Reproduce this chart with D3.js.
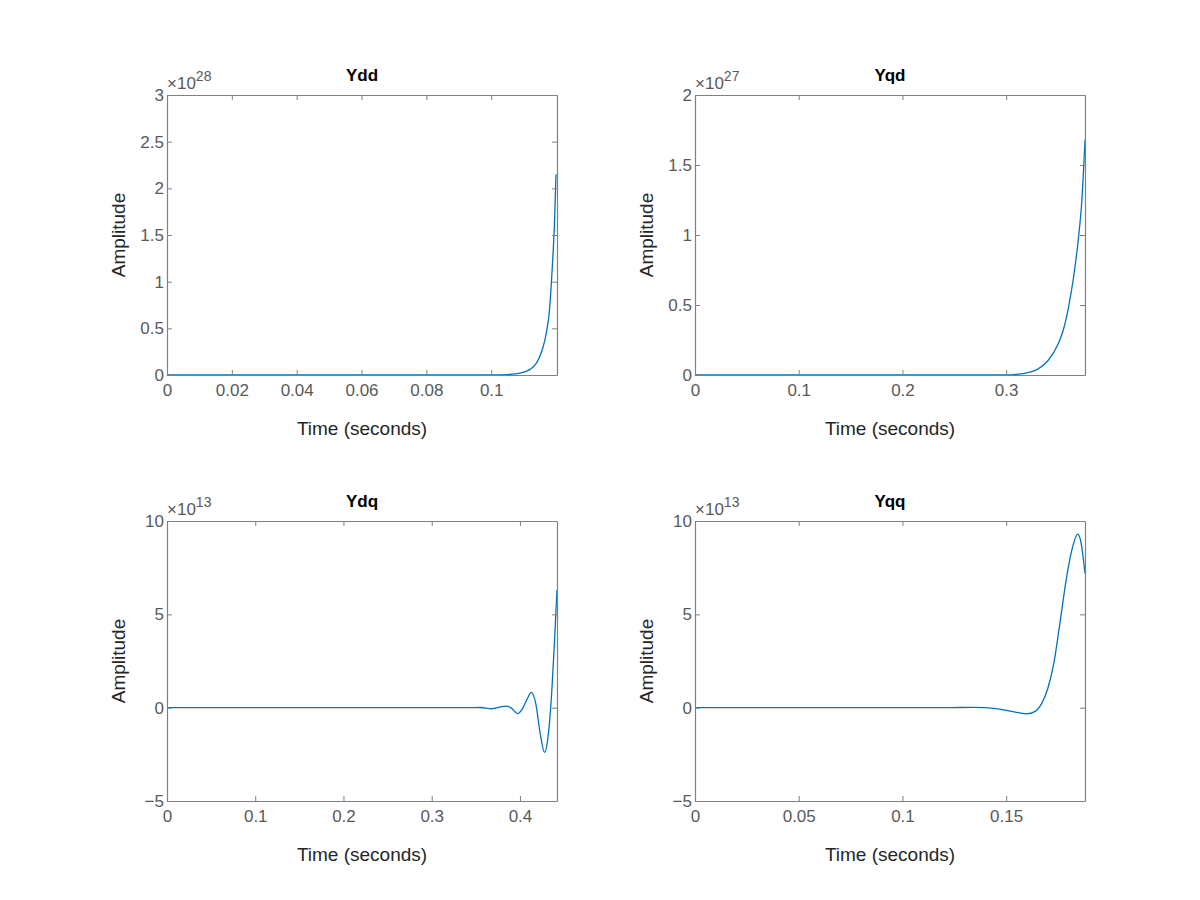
<!DOCTYPE html>
<html><head><meta charset="utf-8">
<script src="https://cdn.jsdelivr.net/npm/d3@7"></script>
<style>body{margin:0;background:#fff;font-family:"Liberation Sans",Arial,sans-serif}</style>
</head><body><div id="canvas"></div>
<script>
// [time, amplitude / scale]
var yddData = [[0,0],[0.09,0],[0.1,0.001],[0.105,0.005],[0.108,0.015],[0.11,0.03],[0.112,0.06],[0.114,0.13],[0.115,0.2],[0.116,0.3],[0.117,0.45],[0.118,0.7],[0.1185,0.95],[0.119,1.25],[0.1195,1.6],[0.12,2.15]];
var yqdData = [[0,0],[0.28,0],[0.3,0.001],[0.31,0.005],[0.32,0.015],[0.33,0.04],[0.34,0.1],[0.35,0.22],[0.355,0.32],[0.36,0.48],[0.365,0.7],[0.37,1.0],[0.373,1.25],[0.376,1.68]];
var ydqData = [[0,0],[0.34,0],[0.355,0.01],[0.368,-0.06],[0.376,0.02],[0.385,0.08],[0.391,-0.05],[0.397,-0.32],[0.403,-0.05],[0.408,0.45],[0.413,0.82],[0.418,0.2],[0.423,-1.4],[0.428,-2.4],[0.432,-1.5],[0.436,0.8],[0.439,3.4],[0.442,6.3]];
var yqqData = [[0,0],[0.12,0],[0.135,0.02],[0.145,-0.05],[0.155,-0.25],[0.16,-0.33],[0.164,-0.2],[0.167,0.2],[0.17,1.0],[0.173,2.4],[0.176,4.6],[0.179,6.9],[0.182,8.6],[0.1845,9.3],[0.186,8.9],[0.188,7.2]];

var panels = [
  {title:"Ydd", data:yddData, xMax:0.1203, xTicks:[0,0.02,0.04,0.06,0.08,0.1], yDom:[0,3], yTicks:[0,0.5,1,1.5,2,2.5,3], exp:"28", left:167, top:95},
  {title:"Yqd", data:yqdData, xMax:0.376, xTicks:[0,0.1,0.2,0.3], yDom:[0,2], yTicks:[0,0.5,1,1.5,2], exp:"27", left:695, top:95},
  {title:"Ydq", data:ydqData, xMax:0.442, xTicks:[0,0.1,0.2,0.3,0.4], yDom:[-5,10], yTicks:[-5,0,5,10], exp:"13", left:167, top:521},
  {title:"Yqq", data:yqqData, xMax:0.188, xTicks:[0,0.05,0.1,0.15], yDom:[-5,10], yTicks:[-5,0,5,10], exp:"13", left:695, top:521}
];
var W = 390, H = 280;
var axisColor = "#808080", textColor = "#595959";

var svg = d3.select("#canvas").append("svg").attr("width",1200).attr("height",900);

panels.forEach(function(p) {
  var g = svg.append("g").attr("transform","translate("+p.left+","+p.top+")");
  var x = d3.scaleLinear().domain([0,p.xMax]).range([0,W]);
  var y = d3.scaleLinear().domain(p.yDom).range([H,0]);

  g.append("path").datum(p.data)
    .attr("fill","none").attr("stroke","#0072BD").attr("stroke-width",1.3)
    .attr("d", d3.line().x(function(d){return x(d[0]);}).y(function(d){return y(d[1]);}).curve(d3.curveMonotoneX));

  // box with inward ticks on all sides
  var axes = [
    [d3.axisBottom(x).tickValues(p.xTicks).tickSizeInner(-5).tickSizeOuter(0).tickFormat(d3.format("~g")), "translate(0,"+H+")", true],
    [d3.axisTop(x).tickValues(p.xTicks).tickSizeInner(-5).tickSizeOuter(0).tickFormat(""), null, false],
    [d3.axisLeft(y).tickValues(p.yTicks).tickSizeInner(-5).tickSizeOuter(0).tickFormat(d3.format("~g")), null, true],
    [d3.axisRight(y).tickValues(p.yTicks).tickSizeInner(-5).tickSizeOuter(0).tickFormat(""), "translate("+W+",0)", false]
  ];
  axes.forEach(function(a) {
    var ag = g.append("g");
    if (a[1]) ag.attr("transform", a[1]);
    ag.call(a[0]);
    ag.select(".domain").attr("stroke",axisColor).attr("stroke-width",1.2);
    ag.selectAll(".tick line").attr("stroke",axisColor);
    ag.selectAll(".tick text").attr("fill",textColor).style("font-size","17px")
      .style("font-family","'Liberation Sans',Arial,sans-serif");
  });
  g.selectAll(".tick text").filter(function(){return this.parentNode.parentNode.getAttribute("transform")==="translate(0,"+H+")";}).attr("dy","1.05em");

  g.append("text").attr("x",W/2).attr("y",-14).attr("text-anchor","middle")
    .style("font-size","17px").style("font-weight","bold").attr("fill","#000").text(p.title);
  g.append("text").attr("x",W/2).attr("y",H+60).attr("text-anchor","middle")
    .style("font-size","19px").attr("fill","#262626").text("Time (seconds)");
  g.append("text").attr("transform","translate(-42,"+(H/2)+") rotate(-90)").attr("text-anchor","middle")
    .style("font-size","19px").attr("fill","#262626").text("Amplitude");
  var ex = g.append("text").attr("x",0).attr("y",-6).attr("fill",textColor).style("font-size","17px");
  ex.append("tspan").text("\u00d710");
  ex.append("tspan").attr("dy",-8).style("font-size","14px").text(p.exp);
});
</script></body></html>
